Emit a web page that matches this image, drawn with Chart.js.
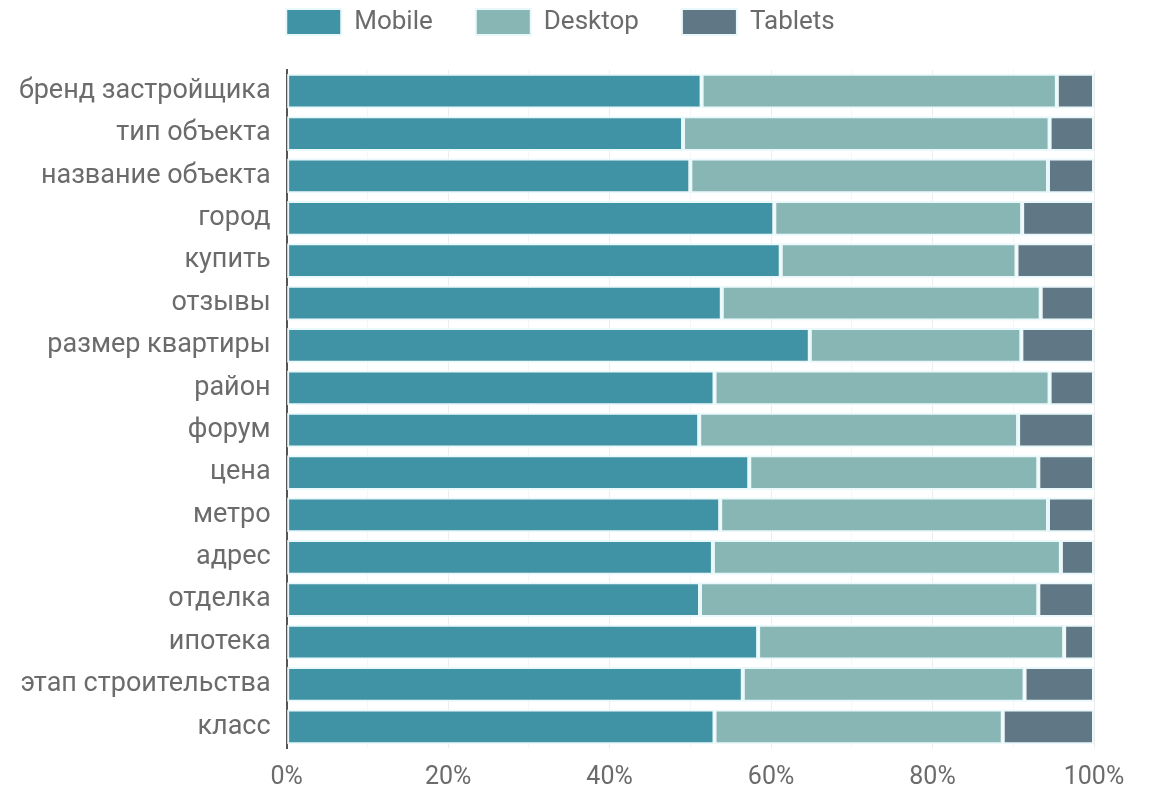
<!DOCTYPE html>
<html>
<head>
<meta charset="utf-8">
<script src="https://cdn.jsdelivr.net/npm/chart.js@4/dist/chart.umd.min.js"></script>
<style>
  html, body { margin: 0; padding: 0; background: #fff; }
  #wrap { width: 1153px; height: 789px; }
</style>
</head>
<body>
<div id="wrap"><canvas id="chart"></canvas></div>
<script>
// search queries, share of traffic by device, %
var categories = [
    "бренд застройщика", "тип объекта", "название объекта", "город", "купить",
    "отзывы", "размер квартиры", "район", "форум", "цена", "метро", "адрес",
    "отделка", "ипотека", "этап строительства", "класс"
];
var mobile  = [51.4, 49.1, 50.0, 60.4, 61.2, 53.9, 64.8, 53.0, 51.1, 57.3, 53.7, 52.8, 51.2, 58.4, 56.5, 53.0];
var desktop = [44.0, 45.4, 44.3, 30.7, 29.2, 39.5, 26.2, 41.5, 39.5, 35.8, 40.6, 43.1, 41.9, 37.9, 34.9, 35.7];
var tablets = [ 4.6,  5.5,  5.7,  8.9,  9.6,  6.6,  9.0,  5.5,  9.4,  6.9,  5.7,  4.1,  6.9,  3.7,  8.6, 11.3];
var labeledTicks = [0, 20, 40, 60, 80, 100];

var font = "Roboto";
var textColor = "#6b6b6b";

function series(label, data, color) {
    return {
        label: label,
        data: data,
        backgroundColor: color,
        borderColor: "#e9f8fb",
        borderWidth: 2,
        borderSkipped: false,
        categoryPercentage: 1,
        barPercentage: 0.82
    };
}

// extra room under the legend, and nudge it a bit to the right
var legendGap = {
    id: "legendGap",
    beforeInit: function(chart) {
        var fit = chart.legend.fit;
        chart.legend.fit = function() {
            fit.bind(chart.legend)();
            this.height += 25;
        };
    },
    afterLayout: function(chart) {
        chart.legend.left += 8;
        chart.legend.right += 8;
    }
};

var ctx = document.getElementById("chart").getContext("2d");
new Chart(ctx, {
    type: "bar",
    data: {
        labels: categories,
        datasets: [
            series("Mobile", mobile, "#3f93a5"),
            series("Desktop", desktop, "#87b6b5"),
            series("Tablets", tablets, "#607885")
        ]
    },
    options: {
        indexAxis: "y",
        responsive: true,
        maintainAspectRatio: false,
        animation: false,
        layout: { padding: { left: 11, right: 59, top: -34, bottom: -19 } },
        scales: {
            x: {
                stacked: true,
                min: 0,
                max: 100,
                ticks: {
                    stepSize: 10,
                    autoSkip: false,
                    maxRotation: 0,
                    padding: 15,
                    color: textColor,
                    font: { family: font, size: 25 },
                    callback: function(v) {
                        return labeledTicks.indexOf(v) >= 0 ? v + "%" : "";
                    }
                },
                grid: {
                    drawTicks: false,
                    color: function(c) {
                        return labeledTicks.indexOf(c.tick.value) >= 0 ? "rgba(0,0,0,0.07)" : "rgba(0,0,0,0.035)";
                    }
                },
                border: { display: false }
            },
            y: {
                stacked: true,
                ticks: {
                    padding: 8,
                    color: textColor,
                    font: { family: font, size: 27 }
                },
                grid: { display: false },
                border: { color: "#555", width: 2 }
            }
        },
        plugins: {
            legend: {
                position: "top",
                labels: {
                    boxWidth: 55,
                    boxHeight: 26,
                    padding: 43,
                    color: textColor,
                    font: { family: font, size: 26 }
                }
            },
            tooltip: { enabled: false }
        }
    },
    plugins: [legendGap]
});
</script>
</body>
</html>
